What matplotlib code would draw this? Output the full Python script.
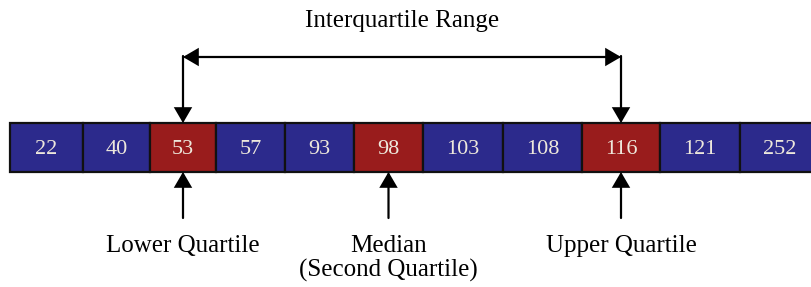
import matplotlib.pyplot as plt

values = [22, 40, 53, 57, 93, 98, 103, 108, 116, 121, 252]
highlight = [2, 5, 8]
labels = ["Lower Quartile", "Median\n(Second Quartile)", "Upper Quartile"]
title = "Interquartile Range"

# layout: box edges in pixels (boxes are not all the same width in the reference)
edges = [10, 83, 150, 216, 285, 354, 423, 503, 582, 660, 740, 820]

BLUE = "#2c2a8c"
RED = "#991c1c"

plt.rcParams['font.family'] = ['Liberation Serif', 'DejaVu Serif']
fig = plt.figure(figsize=(8.11, 2.87), dpi=100)
ax = fig.add_axes([0, 0, 1, 1])
ax.set_xlim(0, 811)
ax.set_ylim(287, 0)
ax.axis('off')

lefts = edges[:-1]
widths = [b - a for a, b in zip(edges[:-1], edges[1:])]
centers = [a + w / 2 for a, w in zip(lefts, widths)]
colors = [RED if i in highlight else BLUE for i in range(len(values))]
ax.bar(lefts, [49] * len(values), bottom=123, width=widths, align='edge',
       color=colors, edgecolor='#111111', linewidth=1.6)
for c, v in zip(centers, values):
    ax.text(c, 149, str(v), ha='center', va='center', color='#eee8dc', fontsize=16)

ap = dict(color='black', lw=1.6, mutation_scale=15, shrinkA=0, shrinkB=0,
          joinstyle='miter')
head = ',head_length=0.6,head_width=0.35'
lo, hi = centers[highlight[0]], centers[highlight[-1]]
ax.annotate('', xy=(lo, 57), xytext=(hi, 57), arrowprops=dict(arrowstyle='<|-|>' + head, **ap))
for x in (lo, hi):
    ax.annotate('', xy=(x, 123), xytext=(x, 56),
                arrowprops=dict(arrowstyle='-|>' + head, **ap))
ax.text((lo + hi) / 2, 21, title, ha='center', va='center', fontsize=18)

for i, lab in zip(highlight, labels):
    x = centers[i]
    ax.annotate('', xy=(x, 172), xytext=(x, 218),
                arrowprops=dict(arrowstyle='-|>' + head, **ap))
    for k, line in enumerate(lab.split('\n')):
        ax.text(x, 252 + 25 * k, line, ha='center', va='baseline', fontsize=18)

fig.savefig('out.png', dpi=100, facecolor='white')
